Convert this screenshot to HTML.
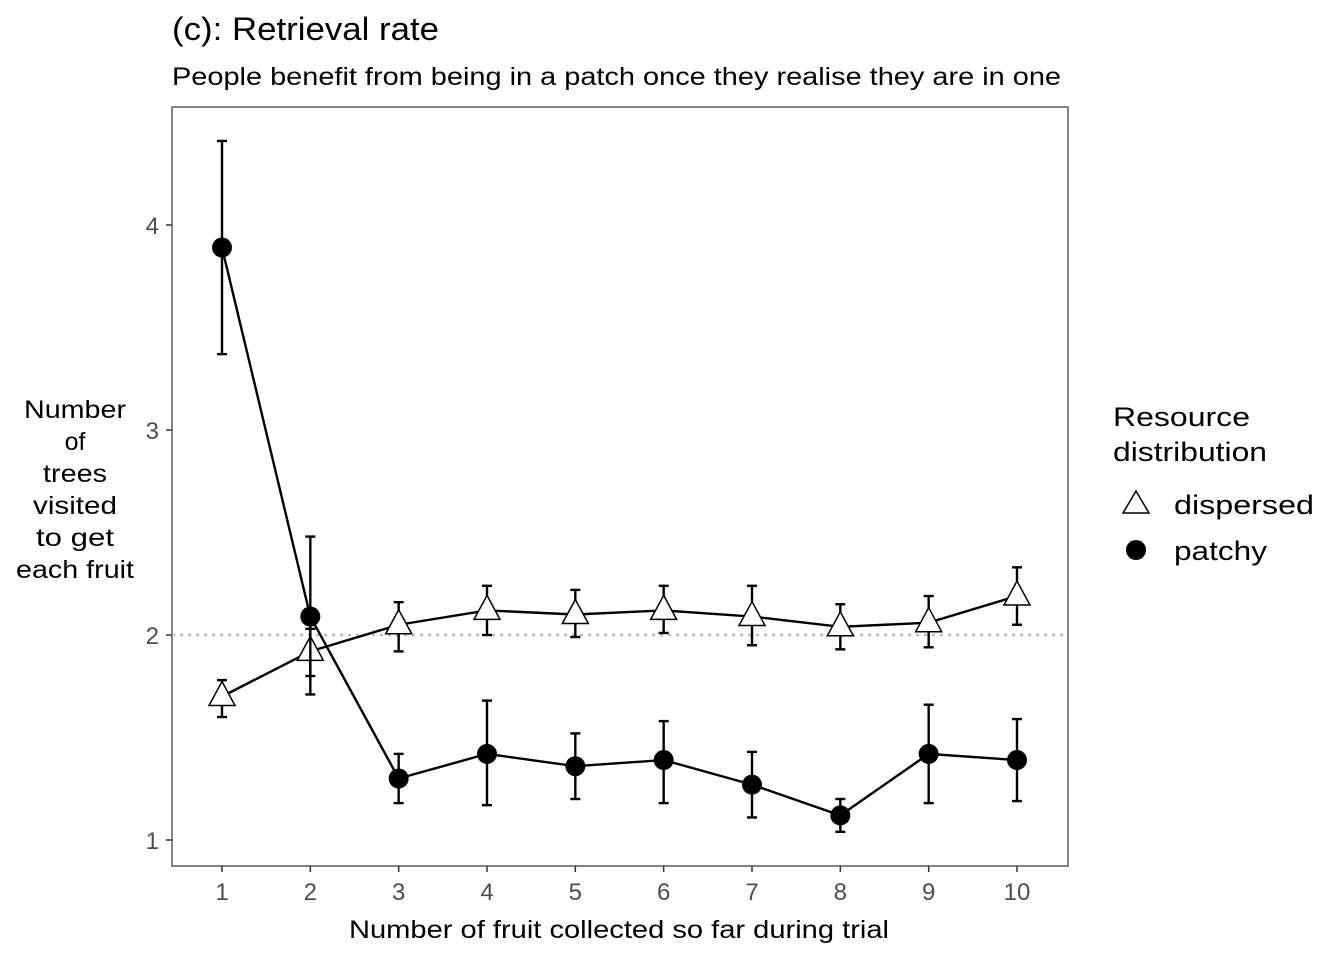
<!DOCTYPE html>
<html><head><meta charset="utf-8"><style>
body{margin:0;background:#fff;font-family:"Liberation Sans",Arial,sans-serif}
</style></head><body>
<svg id="chart" width="1344" height="960" xmlns="http://www.w3.org/2000/svg" font-family="Liberation Sans, Arial, sans-serif">
<text x="172" y="40" font-size="32" fill="#000" textLength="267" lengthAdjust="spacingAndGlyphs">(c): Retrieval rate</text>
<text x="172" y="85" font-size="25" fill="#000" textLength="889" lengthAdjust="spacingAndGlyphs">People benefit from being in a patch once they realise they are in one</text>
<rect x="172" y="107" width="896" height="759" fill="#fff" stroke="#333" stroke-width="1.2"/>
<g id="axes"></g>
<g id="marks"></g>
<text x="349" y="938" font-size="25" textLength="540" lengthAdjust="spacingAndGlyphs">Number of fruit collected so far during trial</text>
<g font-size="25" text-anchor="middle">
<text x="75" y="418" textLength="102" lengthAdjust="spacingAndGlyphs">Number</text><text x="75" y="450">of</text><text x="75" y="482" textLength="64" lengthAdjust="spacingAndGlyphs">trees</text><text x="75" y="514" textLength="84" lengthAdjust="spacingAndGlyphs">visited</text><text x="75" y="546" textLength="78" lengthAdjust="spacingAndGlyphs">to get</text><text x="75" y="578" textLength="118" lengthAdjust="spacingAndGlyphs">each fruit</text>
</g>
<g font-size="27">
<text x="1113" y="426" textLength="137" lengthAdjust="spacingAndGlyphs">Resource</text>
<text x="1113" y="461" textLength="154" lengthAdjust="spacingAndGlyphs">distribution</text>
<polygon points="1136,491 1149,513 1123,513" fill="#fff" stroke="#000" stroke-width="1.5"/>
<text x="1174" y="514" textLength="140" lengthAdjust="spacingAndGlyphs">dispersed</text>
<circle cx="1136" cy="550" r="10" fill="#000"/>
<text x="1174" y="560" textLength="93" lengthAdjust="spacingAndGlyphs">patchy</text>
</g>
</svg>
<script>
const xCats=[1,2,3,4,5,6,7,8,9,10];
const yTicks=[1,2,3,4];
const patchy=[3.89,2.09,1.30,1.42,1.36,1.39,1.27,1.12,1.42,1.39];
const patchyLo=[3.37,1.71,1.18,1.17,1.20,1.18,1.11,1.04,1.18,1.19];
const patchyHi=[4.41,2.48,1.42,1.68,1.52,1.58,1.43,1.20,1.66,1.59];
const dispersed=[1.70,1.92,2.05,2.12,2.10,2.12,2.09,2.04,2.06,2.19];
const dispersedLo=[1.60,1.80,1.92,2.00,1.99,2.01,1.95,1.93,1.94,2.05];
const dispersedHi=[1.78,2.03,2.16,2.24,2.22,2.24,2.24,2.15,2.19,2.33];
const refLine=2;

const NS='http://www.w3.org/2000/svg';
const X=v=>222+(v-1)*(1017-222)/9;
const Y=v=>840-(v-1)*205;
function mk(tag,attrs,parent){const e=document.createElementNS(NS,tag);for(const k in attrs)e.setAttribute(k,attrs[k]);parent.appendChild(e);return e;}
const axes=document.getElementById('axes'),marks=document.getElementById('marks');
yTicks.forEach(t=>{
  const l=mk('line',{x1:166,x2:172,y1:Y(t),y2:Y(t),stroke:'#333','stroke-width':1.5},axes);
  
  
  const tx=mk('text',{x:159,y:Y(t)+9,'font-size':24,'text-anchor':'end',fill:'#4d4d4d'},axes);
  tx.textContent=t;
  
  
});
xCats.forEach(c=>{
  const l=mk('line',{x1:X(c),x2:X(c),y1:866,y2:872,stroke:'#333','stroke-width':1.5},axes);
  
  
  const tx=mk('text',{x:X(c),y:900,'font-size':24,'text-anchor':'middle',fill:'#4d4d4d'},axes);
  tx.textContent=c;
  
  
});
const ref=mk('line',{x1:172,x2:1068,y1:Y(refLine),y2:Y(refLine),stroke:'#bbb','stroke-width':2.5,'stroke-dasharray':'3,5'},marks);


function series(vals,lo,hi,name){
  const pl=mk('polyline',{points:vals.map((v,i)=>X(xCats[i])+','+Y(v)).join(' '),fill:'none',stroke:'#000','stroke-width':2.4},marks);
  
  
  vals.forEach((v,i)=>{
    const x=X(xCats[i]);
    const g=mk('g',{},marks);
    
    
    mk('line',{x1:x,x2:x,y1:Y(lo[i]),y2:Y(hi[i]),stroke:'#000','stroke-width':2.4},g);
    mk('line',{x1:x-5,x2:x+5,y1:Y(lo[i]),y2:Y(lo[i]),stroke:'#000','stroke-width':2.4},g);
    mk('line',{x1:x-5,x2:x+5,y1:Y(hi[i]),y2:Y(hi[i]),stroke:'#000','stroke-width':2.4},g);
  });
  vals.forEach((v,i)=>{
    const x=X(xCats[i]),y=Y(v);let p;
    if(name==='patchy'){p=mk('circle',{cx:x,cy:y,r:10,fill:'#000'},marks);}
    else{p=mk('polygon',{points:`${x},${y-15} ${x+13},${y+9} ${x-13},${y+9}`,fill:'#fff',stroke:'#000','stroke-width':1.5},marks);}
    
    
  });
}
series(dispersed,dispersedLo,dispersedHi,'dispersed');
series(patchy,patchyLo,patchyHi,'patchy');
</script>
</body></html>
